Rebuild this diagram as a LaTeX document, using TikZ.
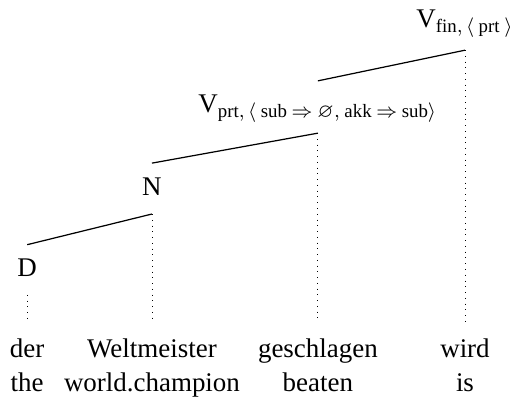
\documentclass[tikz,border=0pt]{standalone}
\usepackage{amsmath,amssymb}
\usepackage{fontspec}
\setmainfont{Liberation Serif}
\usetikzlibrary{calc}
\tikzset{cat/.style={anchor=base,inner sep=0pt},
  word/.style={anchor=base,inner sep=0pt},
  branch/.style={line width=0.5pt},
  proj/.style={dotted,line width=0.35pt}}

\begin{document}
\begin{tikzpicture}[font=\fontsize{11}{13}\selectfont]
\useasboundingbox (0,0) rectangle (7.33,-5.72);
% category labels
\node[cat] (vfin) at (6.67,-0.39) {$\text{V}_{\text{fin},\,\langle\:\text{prt}\:\rangle}$};
\node[cat] (vprt) at (4.56,-1.61) {$\text{V}_{\text{prt},\,\langle\:\text{sub}\:\Rightarrow\:\varnothing,\:\text{akk}\:\Rightarrow\:\text{sub}\rangle}$};
\node[cat] (n) at (2.18,-2.80) {N};
\node[cat] (d) at (0.39,-3.97) {D};
% words and glosses
\node[word] (w1) at (0.39,-5.13) {der};
\node[word] (w2) at (2.18,-5.13) {Weltmeister};
\node[word] (w3) at (4.56,-5.13) {geschlagen};
\node[word] (w4) at (6.67,-5.13) {wird};
\node[word] (g1) at (0.39,-5.61) {the};
\node[word] (g2) at (2.18,-5.61) {world.champion};
\node[word] (g3) at (4.56,-5.61) {beaten};
\node[word] (g4) at (6.67,-5.61) {is};
% branch points
\coordinate (vfin-b) at (6.67,-0.72);
\coordinate (vprt-t) at (4.56,-1.16);
\coordinate (vprt-b) at (4.56,-1.91);
\coordinate (n-t) at (2.18,-2.34);
\coordinate (n-b) at (2.18,-3.07);
\coordinate (d-t) at (0.39,-3.51);
\coordinate (d-b) at (0.39,-4.23);
\foreach \w in {1,2,3,4}
  \coordinate (w\w-t) at ($(w\w.base)+(0,0.5)$);
\draw[branch] (vprt-t) -- (vfin-b);
\draw[branch] (n-t) -- (vprt-b);
\draw[branch] (d-t) -- (n-b);
\draw[proj] (vfin-b) -- (w4-t);
\draw[proj] (vprt-b) -- (w3-t);
\draw[proj] (n-b) -- (w2-t);
\draw[proj] (d-b) -- (w1-t);
\end{tikzpicture}
\end{document}
